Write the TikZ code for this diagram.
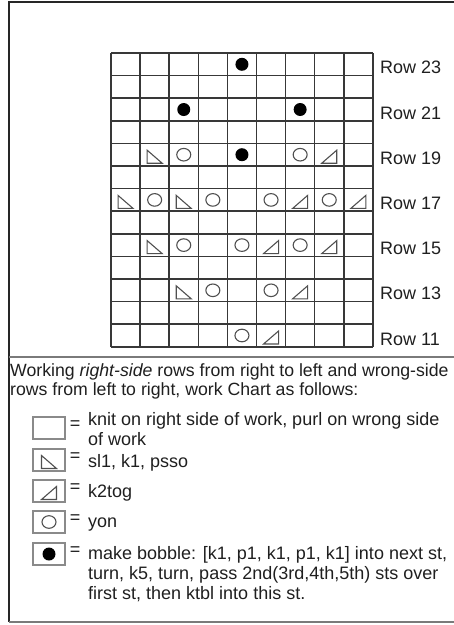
\documentclass[tikz,border=0pt]{standalone}
\usepackage{fontspec}
\setmainfont{Liberation Sans}
\usetikzlibrary{positioning}

\definecolor{gridc}{HTML}{383838}
\definecolor{symc}{HTML}{505050}
\definecolor{keyc}{HTML}{8A8A8A}
\definecolor{sepc}{HTML}{7A7A7A}

% chart symbols, placed at a named coordinate
\newcommand\kssk[1]{\draw[sym] (#1) ++(-7.5,-4.5) -- ++(0,13) -- ++(15,0) -- cycle;}
\newcommand\ktog[1]{\draw[sym] (#1) ++(-7.5,8.5) -- ++(15,0) -- ++(0,-13) -- cycle;}
\newcommand\kyon[1]{\draw[sym] (#1) ellipse [x radius=7, y radius=6.3];}
\newcommand\kbob[1]{\fill[black] (#1) circle [radius=6.5];}

\begin{document}
\begin{tikzpicture}[x=1pt, y=-1pt, font=\fontsize{18}{20}\selectfont, text=black!88,
  sym/.style={draw=symc,line width=1.1pt,line join=miter},
  gridline/.style={draw=gridc,line width=1.5pt},
  key/.style={draw=keyc,line width=1.3pt,minimum width=32pt,minimum height=22pt,inner sep=0pt},
  eq/.style={inner sep=0pt},
  txt/.style={anchor=base west,inner sep=0pt}]
\useasboundingbox (0,0) rectangle (454,625);
\clip (0,0) rectangle (454,625);
% frame
\draw[line width=1.4pt,black!85] (454,2) -- (9,2) -- (9,622);
\draw[line width=1.6pt,sepc] (9,622) -- (454,622);
\draw[line width=1.3pt,sepc] (9,357) -- (454,357);
% chart grid, 9 stitches by 13 rows
\foreach \c in {0,...,9} \draw[gridline] ({111+29.1*\c},53) -- ({111+29.1*\c},346.8);
\foreach \r in {0,...,13} \draw[gridline] (111,{53+22.6*\r}) -- (372.9,{53+22.6*\r});
\foreach \c in {0,...,8} \foreach \r in {0,...,12}
  \coordinate (c\c-\r) at ({111+29.1*(\c+.5)},{53+22.6*(\r+.5)});
\foreach \p in {c4-0,c2-2,c6-2,c4-4} \kbob{\p};
\foreach \p in {c2-4,c6-4,c1-6,c3-6,c5-6,c7-6,c2-8,c4-8,c6-8,c3-10,c5-10,c4-12} \kyon{\p};
\foreach \p in {c1-4,c0-6,c2-6,c1-8,c2-10} \kssk{\p};
\foreach \p in {c7-4,c6-6,c8-6,c5-8,c7-8,c6-10,c5-12} \ktog{\p};
\foreach \r/\n in {0/23,2/21,4/19,6/17,8/15,10/13,12/11}
  \node[txt] (row\n) at (380,{53+22.6*(\r+.5)+9.5}) {Row \n};
% key
\node[txt,font=\fontsize{17.7}{20}\selectfont] (intro1) at (10,376) {Working \textit{right-side} rows from right to left and wrong-side};
\node[txt,font=\fontsize{17.7}{20}\selectfont] (intro2) at (10,395) {rows from left to right, work Chart as follows:};
\node[key] (kplain) at (49,428) {};
\node[key] (kslip) at (49,460) {};
\node[key] (ktwo) at (49,491) {};
\node[key] (kover) at (49,522) {};
\node[key] (kbobble) at (49,554) {};
\kssk{kslip.center} \ktog{ktwo.center} \kyon{kover.center} \kbob{kbobble.center}
\foreach \k in {kplain,kslip,ktwo,kover,kbobble}
  \node[eq,right=4pt of \k,yshift=2.5pt] (eq-\k) {=};
\node[txt] (tplain) at (88,425) {knit on right side of work, purl on wrong side};
\node[txt] (tplain2) at (88,445) {of work};
\node[txt] (tslip) at (88,467) {sl1, k1, psso};
\node[txt] (ttwo) at (88,497) {k2tog};
\node[txt] (tover) at (88,527) {yon};
\node[txt] (tbobble) at (88,559) {make bobble: [k1, p1, k1, p1, k1] into next st,};
\node[txt] (tbobble2) at (88,579) {turn, k5, turn, pass 2nd(3rd,4th,5th) sts over};
\node[txt] (tbobble3) at (88,599) {first st, then ktbl into this st.};
\end{tikzpicture}
\end{document}
